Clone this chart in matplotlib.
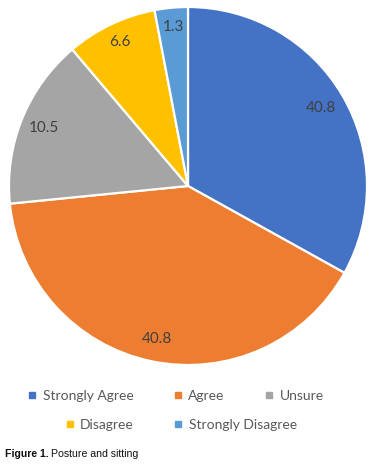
import matplotlib
matplotlib.use("Agg")
import matplotlib.pyplot as plt
from matplotlib.lines import Line2D
import numpy as np

categories = ["Strongly Agree", "Agree", "Unsure", "Disagree", "Strongly Disagree"]
# slice sizes as drawn in the picture (degrees converted to percent)
slice_sizes = [33.1, 40.4, 15.4, 8.2, 3.0]
# values printed on the slices
label_values = ["40.8", "40.8", "10.5", "6.6", "1.3"]
colors = ["#4472C4", "#ED7D31", "#A5A5A5", "#FFC000", "#5B9BD5"]

W, H = 374, 467
fig = plt.figure(figsize=(W / 100, H / 100), dpi=100)
fig.patch.set_facecolor("white")

cx, cy, r = 188, 186, 179
ax = fig.add_axes([(cx - r) / W, 1 - (cy + r) / H, 2 * r / W, 2 * r / H])
wedges, _ = ax.pie(slice_sizes, colors=colors, startangle=90, counterclock=False,
                   radius=1.0, wedgeprops=dict(edgecolor="white", linewidth=1.6))
ax.set_xlim(-1, 1)
ax.set_ylim(-1, 1)
ax.set_aspect("equal")
ax.axis("off")

lab_font = ["Lato", "DejaVu Sans"]
dists = [0.86, 0.87, 0.87, 0.89, 0.89]
for w, lab, d in zip(wedges, label_values, dists):
    ang = np.deg2rad((w.theta1 + w.theta2) / 2)
    ax.text(d * np.cos(ang), d * np.sin(ang), lab, ha="center", va="center",
            fontsize=11, color="#404040", family=lab_font)

def handle(c):
    return Line2D([], [], marker="s", linestyle="", color=c, markersize=4)

leg_kw = dict(frameon=False, prop=dict(family=lab_font, size=10.0), labelcolor="#595959",
              handlelength=0.6, handletextpad=0.45, columnspacing=2.9, borderpad=0,
              loc="center")
leg1 = fig.legend([handle(c) for c in colors[:3]], categories[:3], ncol=3,
                  bbox_to_anchor=(176 / W, 1 - 396 / H), **leg_kw)
leg2 = fig.legend([handle(c) for c in colors[3:]], categories[3:], ncol=2,
                  bbox_to_anchor=(181 / W, 1 - 425 / H), **leg_kw)

cap_font = ["Liberation Sans", "DejaVu Sans"]
t1 = fig.text(5 / W, 1 - 454 / H, "Figure 1.", fontsize=7.6, fontweight="bold",
              family=cap_font, va="center", ha="left", color="#111111")
fig.canvas.draw()
bb = t1.get_window_extent()
fig.text((bb.x1 + 2.5) / W, 1 - 454 / H, "Posture and sitting", fontsize=7.6,
         family=cap_font, va="center", ha="left", color="#111111")

fig.savefig("out.png", dpi=100, facecolor="white")
